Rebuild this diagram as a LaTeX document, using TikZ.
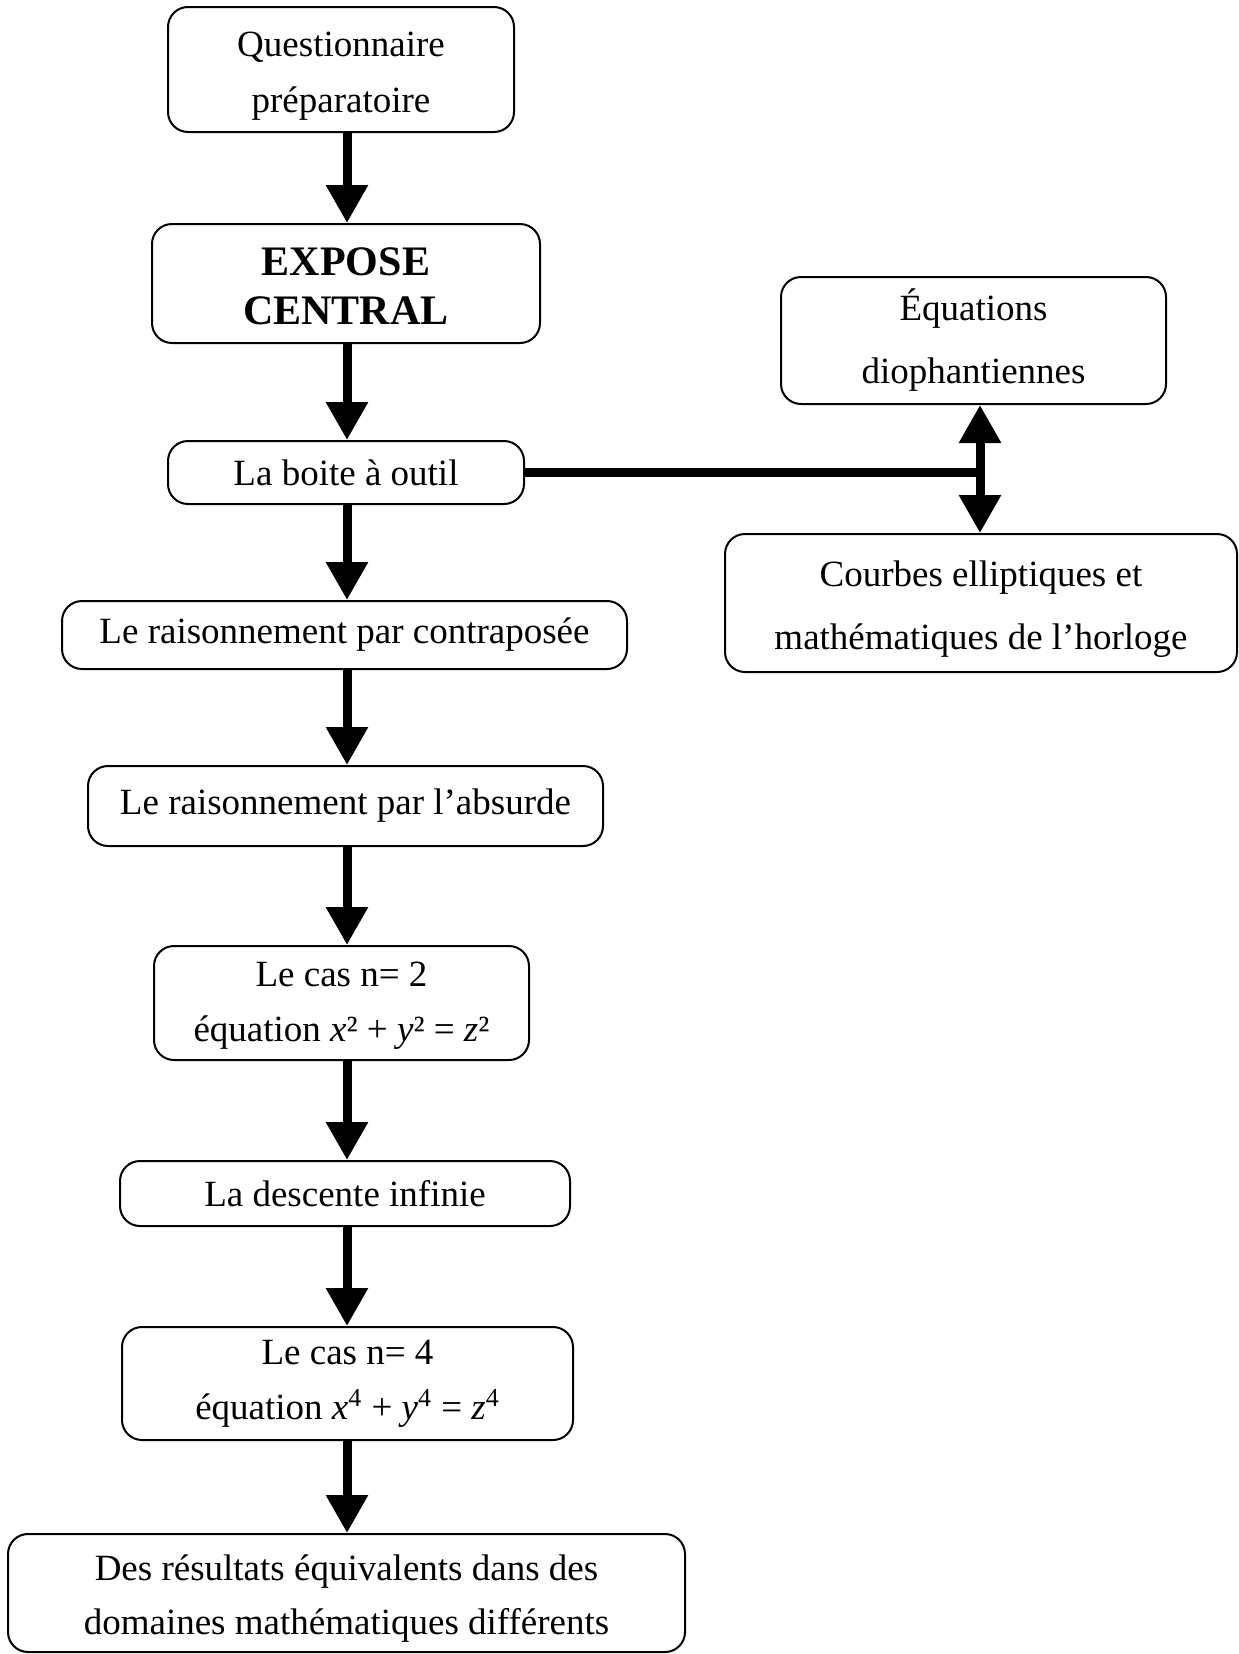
\documentclass[tikz,border=0pt]{standalone}
\usepackage{fontspec}
\setmainfont{Liberation Serif}
\usetikzlibrary{arrows.meta}
\begin{document}
\begin{tikzpicture}[x=0.5pt,y=-0.5pt,
  box/.style={draw, line width=1pt, rounded corners=10pt, align=center, inner sep=0pt,
    font=\fontsize{18.5}{28}\selectfont},
  arr/.style={line width=4.5pt, -{Triangle[width=20pt,length=19pt]}},
  darr/.style={line width=4.5pt, {Triangle[width=20pt,length=19pt]}-{Triangle[width=20pt,length=19pt]}},
  link/.style={line width=4.5pt}]
\useasboundingbox (0,0) rectangle (1238,1654);
\coordinate (cx) at (347,0);
\coordinate (rx) at (980,0);

\node[box, minimum width=173pt, minimum height=62.5pt] (q) at (341,69.5)
  {\rule{0pt}{18.5pt}Questionnaire\\préparatoire};
\node[box, minimum width=194pt, minimum height=59.5pt,
  font=\fontsize{21}{24.5}\selectfont\bfseries] (e) at (346,283.5)
  {\rule{0pt}{17pt}EXPOSE\\CENTRAL};
\node[box, minimum width=178pt, minimum height=31.5pt] (b) at (346,472.5)
  {La boite à outil};
\node[box, minimum width=282.5pt, minimum height=34pt] (c) at (344.5,635)
  {Le raisonnement par contraposée};
\node[box, minimum width=257.5pt, minimum height=40pt] (a) at (345.5,806)
  {Le raisonnement par l’absurde};
\node[box, minimum width=187.5pt, minimum height=57pt,
  font=\fontsize{18.5}{27.5}\selectfont] (n2) at (341.5,1003)
  {\rule{0pt}{15pt}Le cas n= 2\\équation \textit{x}² + \textit{y}² = \textit{z}²};
\node[box, minimum width=225pt, minimum height=32.5pt] (d) at (345,1193.5)
  {La descente infinie};
\node[box, minimum width=225.5pt, minimum height=56.5pt,
  font=\fontsize{18.5}{27.5}\selectfont] (n4) at (347.5,1383.5)
  {Le cas n= 4\\équation \textit{x}\textsuperscript{4} + \textit{y}\textsuperscript{4} = \textit{z}\textsuperscript{4}};
\node[box, minimum width=338.5pt, minimum height=59pt,
  font=\fontsize{18.5}{27}\selectfont] (r) at (346.5,1593)
  {\rule{0pt}{18.6pt}Des résultats équivalents dans des\\domaines mathématiques différents};
\node[box, minimum width=192.5pt, minimum height=63.5pt,
  font=\fontsize{18.5}{31.5}\selectfont] (eq) at (973.5,340.5)
  {Équations\\diophantiennes};
\node[box, minimum width=256pt, minimum height=69pt,
  font=\fontsize{18.5}{31.5}\selectfont] (cb) at (981,603)
  {\rule{0pt}{18.6pt}Courbes elliptiques et\\mathématiques de l’horloge};

\draw[arr] (q.south -| cx) -- (e.north -| cx);
\draw[arr] (e.south -| cx) -- (b.north -| cx);
\draw[arr] (b.south -| cx) -- (c.north -| cx);
\draw[arr] (c.south -| cx) -- (a.north -| cx);
\draw[arr] (a.south -| cx) -- (n2.north -| cx);
\draw[arr] (n2.south -| cx) -- (d.north -| cx);
\draw[arr] (d.south -| cx) -- (n4.north -| cx);
\draw[arr] (n4.south -| cx) -- (r.north -| cx);

\coordinate (j) at (b.east -| rx);
\draw[link] (b.east) -- ([xshift=2.25pt]j);
\draw[darr] (eq.south -| rx) -- (cb.north -| rx);
\end{tikzpicture}
\end{document}
